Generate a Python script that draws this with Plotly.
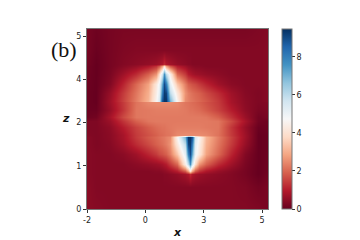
import plotly.graph_objects as go

x_nodes = [-2, -1.63, -1.09, -0.56, -0.03, 0.44, 0.75, 0.88, 1.0, 1.08, 1.17, 1.31, 1.6, 1.91, 2.04, 2.13, 2.21, 2.33, 2.47, 2.77, 3.24, 3.77, 4.31, 4.84, 5.24]
z_nodes = [5.21, 4.6, 4.21, 4.14, 3.92, 3.63, 3.35, 3.14, 3.09, 2.87, 2.67, 2.56, 2.37, 2.14, 2.09, 1.88, 1.6, 1.31, 1.09, 1.02, 0.63, 0]
field_rows = [
[.2,.1,.2,.25,.25,.25,.25,.25,.25,.25,.25,.25,.25,.25,.25,.25,.25,.25,.25,.25,.25,.25,.25,.3,.35],
[.2,.05,.2,.3,.35,.35,.35,.35,.35,.35,.35,.35,.35,.35,.35,.35,.35,.35,.35,.35,.35,.35,.35,.35,.4],
[.15,0,.2,.35,.45,.55,.65,.75,.9,1.2,.9,.75,.55,.45,.4,.4,.35,.35,.35,.35,.35,.35,.35,.35,.4],
[.12,0,.2,.4,.6,.9,1.3,1.8,2.8,4,2.8,1.8,1,.7,.55,.5,.45,.4,.4,.35,.35,.35,.35,.35,.4],
[.1,0,.25,.7,1.2,1.9,2.6,3.9,5.6,7.6,6,4.4,2,1.4,1,.9,.8,.7,.65,.55,.45,.35,.35,.35,.4],
[.08,0,.35,1.1,2,2.8,4.2,5,7.2,9,8,5.2,3.4,2.3,1.9,1.8,1.7,1.6,1.4,1.1,.7,.45,.35,.35,.4],
[.05,0,.6,1.4,2.2,3,4.4,5.2,8,9.3,9.1,6,4.2,2.6,2.3,2.2,2.1,2,1.9,1.6,1.2,.7,.4,.3,.4],
[.05,0,.7,1.5,2.3,3.1,4.6,5.5,8.8,9.4,9.4,7,4.6,2.5,2.35,2.25,2.2,2.1,2,1.8,1.4,.8,.45,.3,.4],
[.05,0,.7,1.4,2.15,2.45,2.5,2.5,2.5,2.5,2.5,2.5,2.45,2.2,2.15,2.1,2.05,2,1.9,1.7,1.4,.8,.45,.3,.35],
[.05,.05,.6,1.35,2.2,2.25,2.3,2.3,2.3,2.3,2.3,2.3,2.3,2.25,2.2,2.15,2.15,2.1,2.05,1.85,1.5,1,.5,.25,.3],
[.1,.15,.8,1.6,2.2,2.25,2.25,2.25,2.25,2.25,2.25,2.25,2.25,2.25,2.25,2.25,2.25,2.25,2.25,2.2,1.9,1.3,.65,.15,.25],
[.3,.3,.65,1.3,1.9,2.2,2.25,2.25,2.25,2.25,2.25,2.25,2.25,2.25,2.25,2.25,2.25,2.25,2.25,2.25,2.2,1.6,.8,.15,.1],
[.3,.3,.5,1,1.5,1.85,2.05,2.1,2.15,2.15,2.2,2.25,2.3,2.3,2.3,2.3,2.3,2.3,2.3,2.25,2.2,1.35,.6,.05,.1],
[.35,.3,.45,.8,1.4,1.7,1.9,2,2.05,2.1,2.15,2.2,2.45,2.5,2.5,2.5,2.5,2.5,2.5,2.45,2.15,1.4,.7,0,.05],
[.4,.3,.45,.8,1.4,1.8,2,2.1,2.2,2.25,2.35,2.5,4.6,7,9.4,9.4,8.8,5.5,4.6,3.1,2.3,1.5,.7,0,.05],
[.4,.3,.4,.7,1.2,1.6,1.9,2,2.1,2.2,2.3,2.6,4.2,6,9.1,9.3,8,5.2,4.4,3,2.2,1.4,.6,0,.05],
[.4,.35,.35,.45,.7,1.1,1.4,1.6,1.7,1.8,1.9,2.3,3.4,5.2,8,9,7.2,5,4.2,2.8,2,1.1,.35,0,.08],
[.4,.35,.35,.35,.45,.55,.65,.7,.8,.9,1,1.4,2,4.4,6,7.6,5.6,3.9,2.6,1.9,1.2,.7,.25,0,.1],
[.4,.35,.35,.35,.35,.35,.4,.4,.45,.5,.55,.7,1,1.8,2.8,4,2.8,1.8,1.3,.9,.6,.4,.2,0,.12],
[.4,.35,.35,.35,.35,.35,.35,.35,.35,.4,.4,.45,.55,.75,.9,1.2,.9,.75,.65,.55,.45,.35,.2,0,.15],
[.45,.35,.35,.35,.35,.35,.35,.35,.35,.35,.35,.35,.35,.35,.35,.35,.35,.35,.35,.35,.35,.35,.3,.15,.25],
[.45,.4,.35,.35,.35,.35,.35,.35,.35,.35,.35,.35,.35,.35,.35,.35,.35,.35,.35,.35,.35,.35,.35,.3,.2],
]
x_ticks = [-2, 0.33, 2.67, 5]
x_labels = ["-2", "0", "3", "5"]
z_ticks = [0, 1.25, 2.5, 3.75, 5]
z_labels = ["0", "1", "2", "4", "5"]
bar_ticks = [0, 2, 4, 6, 8]
rdbu = ["#67001f", "#b2182b", "#d6604d", "#f4a582", "#fddbc7", "#f7f7f7", "#d1e5f0", "#92c5de", "#4393c3", "#2166ac", "#053061"]

colorscale = [[i / (len(rdbu) - 1), c] for i, c in enumerate(rdbu)]
PW, PH = 181, 180
fig = go.Figure(go.Heatmap(
    x=x_nodes, y=z_nodes[::-1], z=field_rows[::-1], zmin=0, zmax=9.47,
    colorscale=colorscale, zsmooth="best",
    colorbar=dict(thickness=10, len=1, lenmode="fraction", x=(282 - 87) / PW, xanchor="left", xpad=0, ypad=0,
                  y=0, yanchor="bottom", tickvals=bar_ticks, ticks="outside", ticklen=3, tickwidth=1,
                  tickcolor="#333", outlinecolor="#777", outlinewidth=1,
                  tickfont=dict(family="DejaVu Sans", size=8, color="#222")),
))
axis_common = dict(showgrid=False, zeroline=False, showline=True, linecolor="#777", linewidth=1, mirror=True,
                   ticks="outside", ticklen=3, tickwidth=1, tickcolor="#333",
                   tickfont=dict(family="DejaVu Sans", size=8, color="#222"))
fig.update_xaxes(range=[-2, 5.24], tickvals=x_ticks, ticktext=x_labels, **axis_common)
fig.update_yaxes(range=[0, 5.21], tickvals=z_ticks, ticktext=z_labels, **axis_common)
fig.update_layout(
    width=352, height=232, autosize=False, paper_bgcolor="white", plot_bgcolor="white",
    margin=dict(l=79, r=92, t=21, b=31),
    annotations=[
        dict(text="(b)", xref="paper", yref="paper", x=(64 - 87) / PW, y=(209 - 49) / PH, showarrow=False,
             xanchor="center", yanchor="middle", font=dict(family="Liberation Serif", size=22, color="#111")),
        dict(text="<b><i>x</i></b>", xref="paper", yref="paper", x=(177 - 87) / PW, y=(209 - 232) / PH, showarrow=False,
             xanchor="center", yanchor="middle", font=dict(family="DejaVu Sans", size=11, color="#111")),
        dict(text="<b><i>z</i></b>", xref="paper", yref="paper", x=(66 - 87) / PW, y=(209 - 118) / PH, showarrow=False,
             xanchor="center", yanchor="middle", font=dict(family="DejaVu Sans", size=11, color="#111")),
    ],
)
fig.write_html("out.html", config={"displayModeBar": False})
